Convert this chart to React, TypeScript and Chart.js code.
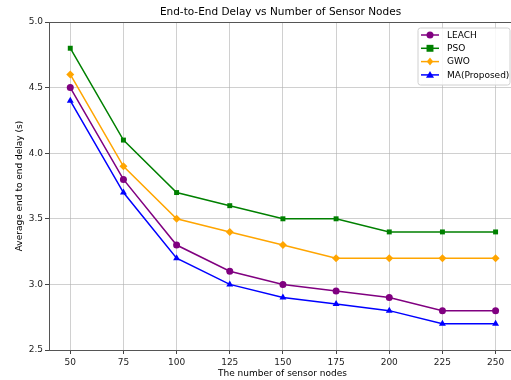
import React, { useEffect, useRef } from "react";
import { Chart, registerables } from "chart.js";
Chart.register(...registerables);

const nodes = [50, 75, 100, 125, 150, 175, 200, 225, 250];
const leach = [4.5, 3.8, 3.3, 3.1, 3.0, 2.95, 2.9, 2.8, 2.8];
const pso = [4.8, 4.1, 3.7, 3.6, 3.5, 3.5, 3.4, 3.4, 3.4];
const gwo = [4.6, 3.9, 3.5, 3.4, 3.3, 3.2, 3.2, 3.2, 3.2];
const ma = [4.4, 3.7, 3.2, 3.0, 2.9, 2.85, 2.8, 2.7, 2.7];
const yTickValues = [2.5, 3.0, 3.5, 4.0, 4.5, 5.0];
const seriesNames = ["LEACH", "PSO", "GWO", "MA(Proposed)"];
const seriesColors = ["#800080", "#008000", "#FFA500", "#0000FF"];
const seriesMarkers = ["circle", "rect", "rectRot", "triangle"];
const seriesRadius = [3.5, 3.5, 4, 4];
const titleText = "End-to-End Delay vs Number of Sensor Nodes";
const xTitle = "The number of sensor nodes";
const yTitle = "Average end to end delay (s)";

const FONT = "'DejaVu Sans', sans-serif";

function drawMarker(ctx: CanvasRenderingContext2D, style: string, rad: number, x: number, y: number) {
  ctx.beginPath();
  if (style === "circle") {
    ctx.arc(x, y, rad, 0, Math.PI * 2);
  } else if (style === "rect") {
    const s = rad * 0.99;
    ctx.rect(x - s, y - s, 2 * s, 2 * s);
  } else if (style === "rectRot") {
    ctx.moveTo(x, y - rad);
    ctx.lineTo(x + rad * 0.8, y);
    ctx.lineTo(x, y + rad);
    ctx.lineTo(x - rad * 0.8, y);
    ctx.closePath();
  } else {
    ctx.moveTo(x, y - rad);
    ctx.lineTo(x + rad, y + rad * 0.7);
    ctx.lineTo(x - rad, y + rad * 0.7);
    ctx.closePath();
  }
  ctx.fill();
}

const framePlugin = {
  id: "frameAndLegend",
  afterDraw(chart: any) {
    const ctx = chart.ctx;
    const a = chart.chartArea;
    ctx.save();
    // top spine
    ctx.strokeStyle = "#555555";
    ctx.lineWidth = 1;
    ctx.beginPath();
    ctx.moveTo(a.left, Math.round(a.top) + 0.5);
    ctx.lineTo(a.right, Math.round(a.top) + 0.5);
    ctx.stroke();
    // title
    ctx.fillStyle = "#000";
    ctx.font = `10.5px ${FONT}`;
    ctx.textAlign = "center";
    ctx.textBaseline = "middle";
    ctx.fillText(titleText, (a.left + a.right) / 2 - 2, 12);
    // legend
    const bw = 92;
    const bh = 57;
    const bx = a.right - 6 - bw;
    const by = a.top + 6;
    ctx.fillStyle = "rgba(255,255,255,0.85)";
    ctx.strokeStyle = "#d0d0d0";
    ctx.beginPath();
    const r = 2.5;
    ctx.moveTo(bx + r, by);
    ctx.lineTo(bx + bw - r, by);
    ctx.quadraticCurveTo(bx + bw, by, bx + bw, by + r);
    ctx.lineTo(bx + bw, by + bh - r);
    ctx.quadraticCurveTo(bx + bw, by + bh, bx + bw - r, by + bh);
    ctx.lineTo(bx + r, by + bh);
    ctx.quadraticCurveTo(bx, by + bh, bx, by + bh - r);
    ctx.lineTo(bx, by + r);
    ctx.quadraticCurveTo(bx, by, bx + r, by);
    ctx.closePath();
    ctx.fill();
    ctx.stroke();
    seriesNames.forEach((name, i) => {
      const y = by + 7 + i * 13.3;
      ctx.strokeStyle = seriesColors[i];
      ctx.lineWidth = 1.5;
      ctx.beginPath();
      ctx.moveTo(bx + 3, y);
      ctx.lineTo(bx + 21, y);
      ctx.stroke();
      ctx.fillStyle = seriesColors[i];
      drawMarker(ctx, seriesMarkers[i], seriesRadius[i], bx + 12, y);
      ctx.fillStyle = "#000";
      ctx.font = `9px ${FONT}`;
      ctx.textAlign = "left";
      ctx.textBaseline = "middle";
      ctx.fillText(name, bx + 29, y + 0.5);
    });
    ctx.restore();
  },
};

export default function App() {
  const ref = useRef<HTMLCanvasElement>(null);
  useEffect(() => {
    if (!ref.current) return;
    const series = [leach, pso, gwo, ma];
    const chart = new Chart(ref.current, {
      type: "line",
      data: {
        datasets: series.map((vals, i) => ({
          label: seriesNames[i],
          data: nodes.map((x, j) => ({ x, y: vals[j] })),
          borderColor: seriesColors[i],
          backgroundColor: seriesColors[i],
          borderWidth: 1.5,
          pointStyle: seriesMarkers[i] as any,
          pointRadius: seriesRadius[i],
          pointBorderWidth: 0,
          tension: 0,
        })),
      },
      options: {
        responsive: false,
        animation: false,
        layout: { padding: { top: 22, right: 0, left: 0, bottom: 0 } },
        plugins: {
          legend: { display: false },
          title: { display: false },
          tooltip: { enabled: false },
        },
        scales: {
          x: {
            type: "linear",
            min: 40,
            max: 259.6,
            afterBuildTicks: (s: any) => {
              s.ticks = nodes.map((v) => ({ value: v }));
            },
            afterFit: (s: any) => {
              s.height = 30;
              s.paddingLeft = 0;
              s.paddingRight = 0;
            },
            grid: {
              color: "rgba(176,176,176,0.6)",
              tickColor: "#444",
              tickLength: 4,
              drawOnChartArea: true,
            },
            border: { color: "#555", width: 1 },
            ticks: {
              color: "#222",
              font: { family: FONT, size: 9 },
              padding: 3,
              maxRotation: 0,
            },
            title: {
              display: true,
              text: xTitle,
              color: "#000",
              font: { family: FONT, size: 9 },
              padding: { top: 0, bottom: 1 },
            },
          },
          y: {
            type: "linear",
            min: 2.5,
            max: 5.0,
            afterBuildTicks: (s: any) => {
              s.ticks = yTickValues.map((v) => ({ value: v }));
            },
            afterFit: (s: any) => {
              s.width = 49;
              s.paddingTop = 0;
              s.paddingBottom = 0;
            },
            grid: {
              color: "rgba(176,176,176,0.6)",
              tickColor: "#444",
              tickLength: 4,
            },
            border: { color: "#555", width: 1 },
            ticks: {
              color: "#222",
              font: { family: FONT, size: 9 },
              padding: 2,
              callback: (v: any) => Number(v).toFixed(1),
            },
            title: {
              display: true,
              text: yTitle,
              color: "#000",
              font: { family: FONT, size: 9 },
              padding: { top: 14, bottom: 4 },
            },
          },
        },
      },
      plugins: [framePlugin],
    });
    return () => chart.destroy();
  }, []);
  return (
    <div style={{ position: "fixed", left: 0, top: 0, width: 511, height: 380, overflow: "hidden", background: "#fff" }}>
      <canvas ref={ref} width={520} height={380} style={{ display: "block" }} />
    </div>
  );
}
